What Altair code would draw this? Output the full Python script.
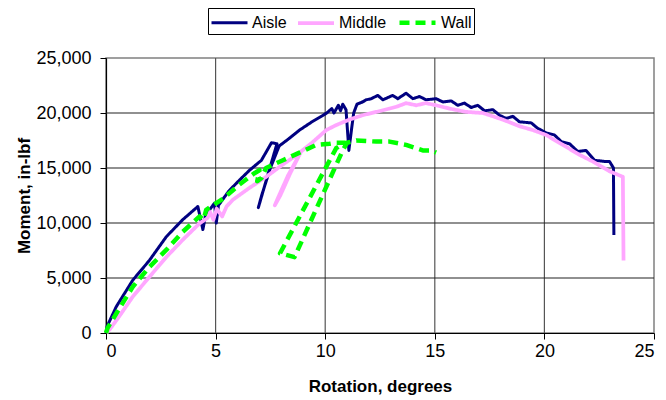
import altair as alt
import pandas as pd

series_names = ["Aisle", "Middle", "Wall"]
series_colors = ["#000080", "#FFA6FF", "#00FF00"]

aisle_x = [0, 0.05, 0.47, 1.22, 1.98, 2.75, 3.5, 4.19, 4.42, 4.54, 4.95, 5.03, 5.13, 5.6, 6.09, 6.55, 7.09,
           7.55, 7.8, 7.4, 6.95, 7.1, 7.5, 7.9, 8.3, 8.83, 9.4, 10.05, 10.3, 10.4, 10.6, 10.7, 10.8, 10.95,
           11.08, 11.2, 11.3, 11.45, 11.7, 11.87, 12.1, 12.4, 12.63, 13.08, 13.31, 13.69, 14.0, 14.3, 14.6,
           15.06, 15.37, 15.75, 16.05, 16.35, 16.66, 16.96, 17.27, 17.65, 17.95, 18.26, 18.56, 18.86, 19.4,
           19.7, 20.08, 20.46, 20.77, 21.15, 21.52, 21.9, 22.29, 22.74, 22.97, 23.15, 23.17]
aisle_y = [0, 600, 2400, 4800, 6600, 8750, 10300, 11500, 9400, 10700, 11800, 10000, 11600, 12900, 13900, 14800,
           15700, 17300, 17200, 14500, 11400, 12500, 15000, 17000, 17600, 18450, 19200, 19970, 20400, 20000,
           20700, 20200, 20800, 20300, 16600, 18500, 20000, 20800, 21000, 21200, 21300, 21600, 21200, 21600,
           21300, 21800, 21300, 21500, 21200, 21300, 21000, 21100, 20700, 20900, 20500, 20700, 20200, 20300,
           19800, 19500, 19700, 19200, 19100, 18600, 18200, 18000, 17400, 17200, 16500, 16600, 15700, 15600,
           15600, 15000, 8900]

middle_x = [0.02, 0.16, 0.6, 1.22, 1.98, 2.75, 3.49, 4.27, 4.63, 4.75, 4.9, 5.05, 5.3, 5.5, 5.78, 6.55, 7.31,
            8.05, 8.5, 8.85, 8.4, 7.95, 7.7, 7.85, 8.3, 8.9, 9.4, 10.05, 10.5, 11.1, 11.71, 12.33, 12.93,
            13.3, 13.69, 14.15, 14.6, 15.06, 15.67, 16.43, 17.19, 17.5, 18.1, 18.86, 19.47, 20.08, 20.84,
            21.6, 22.2, 22.97, 23.58, 23.61]
middle_y = [0, 300, 1500, 3300, 5100, 6900, 8450, 9970, 10450, 11000, 10300, 11300, 10600, 11500, 12100,
            13200, 14200, 15300, 15900, 16300, 14500, 12500, 11600, 12300, 14300, 16500, 17300, 18450, 18900,
            19400, 19800, 20100, 20400, 20600, 20900, 20700, 20900, 20700, 20400, 20100, 20000, 19800, 19400,
            18800, 18450, 18000, 17100, 16200, 15600, 14700, 14200, 6600]

wall_x = [0, 0.07, 0.6, 1.22, 1.98, 2.75, 3.5, 4.27, 4.45, 4.57, 4.87, 5.33, 6.09, 6.55, 6.75, 7.0, 6.9, 7.1,
          7.3, 8.07, 8.83, 9.59, 10.2, 10.5, 10.9, 10.5, 7.94, 8.6, 10.8, 11.0, 11.42, 12.33, 12.93, 13.69,
          14.45, 14.84, 15.06]
wall_y = [0, 450, 2200, 4200, 6000, 7550, 9200, 10600, 10300, 11200, 11600, 12200, 13500, 14200, 14500, 14800,
          13800, 14100, 15000, 15700, 16400, 17100, 17200, 17300, 17300, 16800, 7250, 6900, 16600, 17300,
          17500, 17400, 17400, 17100, 16600, 16600, 16400]

x_ticks = [0, 5, 10, 15, 20, 25]
y_ticks = [0, 5000, 10000, 15000, 20000, 25000]

rows = []
for name, xs, ys in [("Aisle", aisle_x, aisle_y), ("Middle", middle_x, middle_y), ("Wall", wall_x, wall_y)]:
    for i, (xv, yv) in enumerate(zip(xs, ys)):
        rows.append({"series": name, "i": i, "rotation": xv, "moment": yv})
df = pd.DataFrame(rows)
xgrid_df = pd.DataFrame({"rotation": x_ticks[1:-1]})
ygrid_df = pd.DataFrame({"moment": y_ticks[1:-1]})

FONT = "Liberation Sans"
xscale = alt.Scale(domain=[0, 25], nice=False, zero=False)
yscale = alt.Scale(domain=[0, 25000], nice=False)

xgrid = alt.Chart(xgrid_df).mark_rule(color="#555555", strokeWidth=1.2).encode(
    x=alt.X("rotation:Q", scale=xscale))
ygrid = alt.Chart(ygrid_df).mark_rule(color="#222222", strokeWidth=1.2).encode(
    y=alt.Y("moment:Q", scale=yscale))

lines = alt.Chart(df).mark_line(strokeCap="butt", strokeJoin="round").encode(
    x=alt.X("rotation:Q", title="Rotation, degrees", scale=xscale,
            axis=alt.Axis(values=x_ticks, format="d", grid=False)),
    y=alt.Y("moment:Q", title="Moment, in-lbf", scale=yscale,
            axis=alt.Axis(values=y_ticks, format=",.0f", grid=False)),
    color=alt.Color("series:N", title=None,
                    scale=alt.Scale(domain=series_names, range=series_colors)),
    strokeDash=alt.StrokeDash("series:N", title=None,
                              scale=alt.Scale(domain=series_names, range=[[1, 0], [1, 0], [10, 6]])),
    strokeWidth=alt.StrokeWidth("series:N", title=None,
                                scale=alt.Scale(domain=series_names, range=[3, 4.5, 3])),
    order=alt.Order("i:Q"),
)

chart = alt.layer(xgrid, ygrid, lines).properties(
    width=548, height=275,
    autosize=alt.AutoSizeParams(type="none"),
    padding={"left": 106, "top": 58, "right": 12, "bottom": 67},
).configure_view(
    stroke="#808080", strokeWidth=1.5
).configure_axis(
    labelFont=FONT, titleFont=FONT, labelFontSize=18, titleFontSize=17,
    labelColor="#000", titleColor="#000", titleFontWeight="bold",
    domainColor="#000", tickColor="#000", tickSize=6, domainWidth=1.2,
).configure_axisY(
    labelPadding=9, titlePadding=2,
).configure_axisX(
    labelPadding=3, titlePadding=18,
).configure_legend(
    orient="none", legendX=102, legendY=-50, direction="horizontal",
    strokeColor="#000", padding=2, labelFont=FONT, labelFontSize=16, labelColor="#000",
    symbolType="M-1.8,0H1.8", symbolSize=400, columnPadding=3, labelOffset=11, symbolOffset=8,
)

chart.save("out.html", embed_options={"renderer": "svg", "actions": False})
